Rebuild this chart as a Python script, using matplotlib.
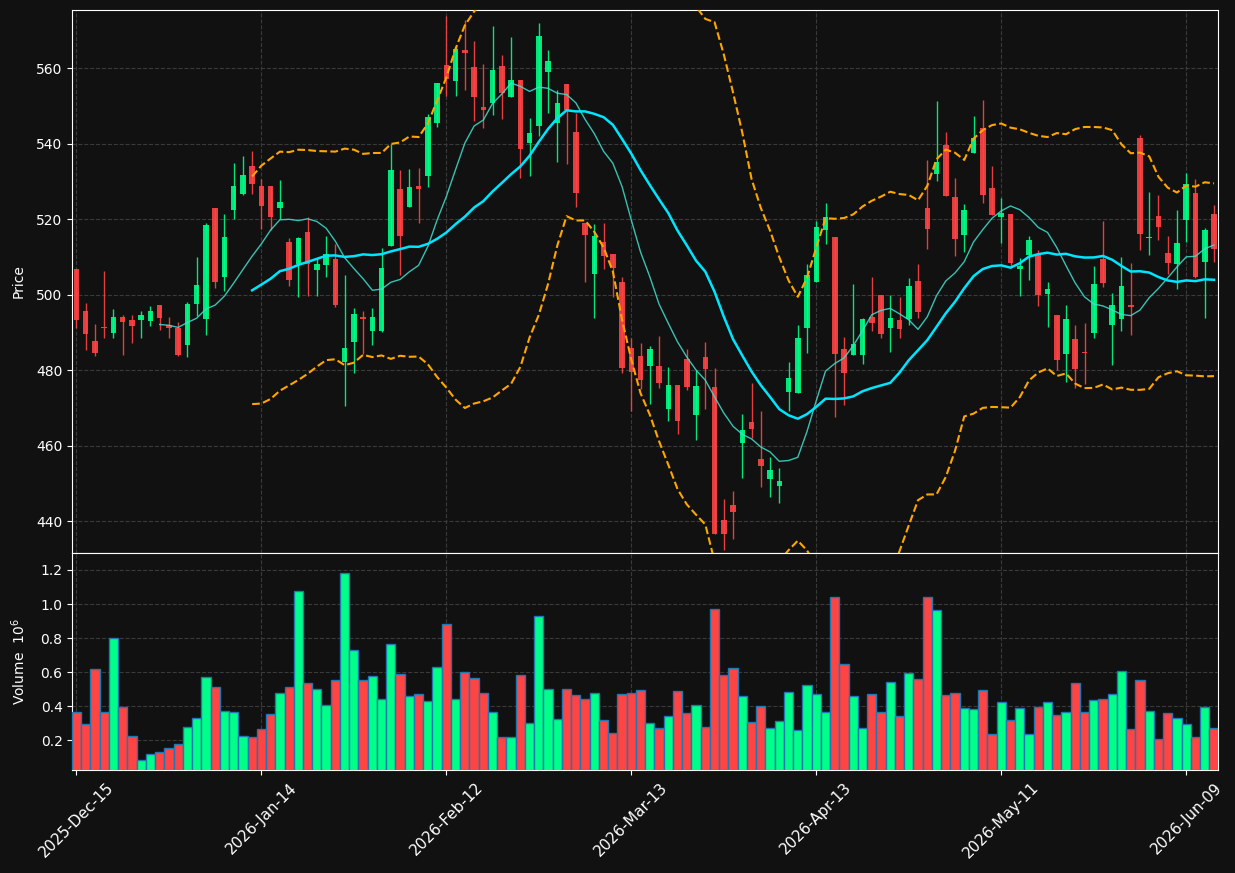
import numpy as np
import pandas as pd
import matplotlib
matplotlib.use("Agg")
import matplotlib.pyplot as plt

BG = '#111111'
UP = '#00ff88'
DOWN = '#ff4444'

# US market holidays inside the window
HOLIDAYS = ['2025-12-25', '2026-01-01', '2026-01-19', '2026-02-16',
            '2026-04-03', '2026-05-25']

opens = [506.7, 495.8, 487.6, 491.4, 489.8, 494.0, 493.2, 493.3, 493.0, 497.2,
         492.1, 491.1, 486.7, 497.5, 493.6, 522.9, 504.7, 522.5, 526.7, 534.1,
         528.8, 528.8, 523.0, 513.9, 508.1, 516.6, 506.5, 507.9, 509.4, 482.3,
         487.4, 494.1, 490.5, 490.5, 512.9, 528.0, 523.3, 528.8, 531.5, 545.4,
         560.8, 556.7, 564.8, 560.4, 549.8, 550.9, 560.7, 552.3, 556.9, 540.3,
         544.8, 558.9, 545.4, 555.9, 543.1, 519.0, 505.4, 513.9, 510.7, 503.3,
         486.0, 483.7, 481.1, 481.1, 469.7, 476.2, 483.0, 468.1, 483.6, 475.5,
         440.3, 444.3, 460.6, 466.4, 456.5, 451.1, 449.2, 474.2, 473.9, 491.1,
         503.4, 517.2, 515.3, 485.7, 483.9, 483.9, 494.0, 499.8, 491.1, 493.2,
         493.5, 503.5, 522.9, 532.1, 539.7, 525.9, 515.8, 537.5, 544.2, 528.2,
         520.7, 521.3, 506.8, 510.5, 510.5, 500.2, 494.5, 484.2, 488.2, 484.9,
         489.8, 509.4, 492.0, 493.6, 497.2, 541.6, 515.1, 520.8, 511.0, 508.1,
         519.8, 526.9, 508.7, 521.3]

highs = [506.7, 497.7, 492.3, 506.2, 496.3, 494.7, 494.7, 495.8, 496.9, 497.2,
         494.2, 492.7, 498.1, 510.0, 518.9, 522.9, 521.5, 535.0, 536.8, 538.1,
         530.7, 528.8, 530.3, 514.9, 515.3, 520.7, 509.8, 515.6, 513.5, 505.3,
         496.5, 495.8, 496.5, 512.3, 539.8, 533.1, 533.3, 533.5, 547.8, 556.2,
         573.9, 565.8, 572.8, 567.1, 561.0, 571.2, 563.4, 568.3, 556.9, 546.8,
         572.0, 564.8, 554.3, 555.9, 548.0, 519.0, 518.6, 518.9, 510.7, 504.8,
         488.5, 487.2, 486.5, 489.1, 480.9, 476.2, 485.6, 480.0, 487.4, 480.6,
         446.0, 448.1, 468.3, 476.5, 469.1, 457.1, 454.1, 482.1, 492.1, 508.2,
         519.4, 524.4, 515.3, 488.8, 502.7, 493.8, 504.8, 499.8, 500.0, 499.3,
         504.4, 508.1, 535.6, 551.2, 543.1, 530.8, 524.0, 547.3, 551.6, 534.0,
         525.7, 521.3, 509.8, 515.6, 511.9, 503.4, 494.5, 497.2, 492.1, 492.4,
         507.7, 519.4, 500.5, 510.1, 508.4, 542.2, 527.1, 526.5, 515.6, 522.5,
         532.3, 530.6, 517.6, 523.7]

lows = [491.1, 485.3, 483.7, 488.6, 488.4, 484.0, 487.1, 488.6, 491.7, 490.7,
        488.4, 483.7, 483.5, 494.4, 489.3, 501.9, 501.1, 520.0, 526.4, 526.6,
        517.5, 517.2, 520.0, 502.3, 499.3, 499.7, 499.7, 504.8, 496.7, 470.6,
        479.3, 484.2, 486.7, 490.0, 512.9, 505.3, 523.3, 518.9, 528.4, 544.3,
        552.6, 552.6, 554.2, 545.9, 544.1, 547.5, 546.5, 552.3, 531.0, 531.5,
        542.0, 548.0, 535.1, 534.5, 523.3, 503.4, 493.9, 506.7, 499.3, 479.3,
        469.3, 474.9, 471.1, 475.3, 466.5, 463.2, 474.8, 461.5, 469.7, 436.6,
        432.4, 435.4, 451.4, 462.1, 449.0, 446.4, 444.8, 469.1, 473.9, 484.6,
        503.4, 513.5, 467.7, 470.8, 483.9, 481.6, 490.4, 488.4, 484.9, 488.6,
        492.1, 493.8, 512.0, 530.0, 526.1, 510.2, 511.2, 537.5, 524.4, 521.1,
        513.8, 507.0, 499.7, 504.0, 497.0, 491.5, 480.0, 476.9, 475.3, 476.4,
        488.4, 502.1, 481.4, 490.4, 489.3, 511.9, 510.5, 514.6, 505.6, 501.6,
        514.0, 504.4, 493.7, 508.7]

closes = [493.3, 489.6, 484.5, 491.2, 494.2, 492.7, 491.7, 494.5, 495.6, 493.8,
          491.1, 484.0, 497.5, 502.5, 518.4, 503.4, 515.3, 528.8, 531.7, 529.4,
          523.6, 520.7, 524.5, 503.9, 515.0, 508.1, 508.2, 510.9, 497.2, 486.0,
          494.8, 493.6, 494.0, 507.0, 533.1, 515.6, 528.5, 527.9, 547.1, 556.2,
          557.1, 565.1, 563.9, 552.3, 549.0, 559.6, 553.3, 556.9, 538.5, 542.8,
          568.4, 562.0, 550.8, 548.9, 527.0, 515.7, 515.5, 510.2, 507.0, 480.7,
          479.5, 477.4, 485.5, 476.5, 476.0, 466.5, 475.5, 475.7, 480.2, 436.6,
          436.5, 442.4, 464.1, 464.5, 454.5, 453.5, 450.6, 477.9, 488.6, 505.3,
          518.0, 520.6, 484.2, 479.2, 487.0, 493.5, 492.5, 489.6, 493.8, 490.9,
          502.2, 495.3, 517.4, 535.1, 526.1, 514.7, 522.5, 541.6, 526.5, 521.1,
          521.6, 508.4, 507.5, 514.4, 499.9, 501.4, 482.6, 493.5, 480.3, 484.6,
          502.8, 503.1, 497.2, 502.2, 496.8, 516.2, 515.4, 518.0, 508.3, 513.6,
          529.3, 504.7, 517.1, 512.1]

# volume in millions
volumes = [0.365, 0.298, 0.616, 0.365, 0.798, 0.398, 0.227, 0.086, 0.122, 0.133,
           0.153, 0.176, 0.280, 0.329, 0.569, 0.516, 0.375, 0.369, 0.227, 0.222,
           0.265, 0.353, 0.476, 0.516, 1.075, 0.535, 0.504, 0.410, 0.557, 1.180,
           0.733, 0.553, 0.580, 0.441, 0.765, 0.588, 0.459, 0.471, 0.429, 0.629,
           0.882, 0.441, 0.600, 0.565, 0.476, 0.365, 0.218, 0.218, 0.582, 0.300,
           0.929, 0.500, 0.324, 0.500, 0.465, 0.441, 0.476, 0.318, 0.241, 0.471,
           0.476, 0.494, 0.300, 0.273, 0.341, 0.488, 0.359, 0.406, 0.276, 0.971,
           0.582, 0.624, 0.459, 0.306, 0.400, 0.273, 0.312, 0.482, 0.259, 0.524,
           0.471, 0.365, 1.041, 0.647, 0.459, 0.273, 0.471, 0.365, 0.541, 0.341,
           0.594, 0.559, 1.041, 0.965, 0.465, 0.476, 0.388, 0.382, 0.494, 0.239,
           0.424, 0.318, 0.388, 0.235, 0.394, 0.424, 0.347, 0.365, 0.535, 0.365,
           0.435, 0.441, 0.471, 0.606, 0.265, 0.553, 0.371, 0.206, 0.359, 0.329,
           0.294, 0.218, 0.394, 0.271]

n = len(closes)
dates = pd.bdate_range('2025-12-15', periods=n, freq='C', holidays=HOLIDAYS)
x = np.arange(n)
o = np.array(opens)
h = np.array(highs)
l = np.array(lows)
c = np.array(closes)
up = c >= o
colors = [UP if u else DOWN for u in up]

cs = pd.Series(closes)
ma10 = cs.rolling(10).mean()
ma20 = cs.rolling(20).mean()
sd20 = cs.rolling(20).std()
upper = ma20 + 2 * sd20
lower = ma20 - 2 * sd20

fig = plt.figure(figsize=(12.35, 8.73), dpi=100, facecolor=BG)
ax = fig.add_axes([0.0585, 0.3671, 0.928, 0.6214], facecolor=BG)
axv = fig.add_axes([0.0585, 0.1176, 0.928, 0.2490], facecolor=BG, sharex=ax)

#Candles
ax.vlines(x, l, h, colors=colors, linewidth=1.0, alpha=0.9, zorder=2)
body = np.abs(c - o)
body = np.where(body < 0.15, 0.15, body)
ax.bar(x, body, bottom=np.minimum(o, c), width=0.6, color=colors,
       alpha=0.9, linewidth=0, zorder=3)

#Indicators
ax.plot(x, ma10, color='#40e0d0', linewidth=1.0, alpha=0.85, zorder=4)
ax.plot(x, ma20, color='#00e5ff', linewidth=1.8, zorder=4)
ax.plot(x, upper, color='orange', linewidth=1.5, linestyle='--', zorder=4)
ax.plot(x, lower, color='orange', linewidth=1.5, linestyle='--', zorder=4)

ax.set_ylim(431.7, 575.4)
ax.set_xlim(-0.45, n - 0.53)
ax.set_yticks([440, 460, 480, 500, 520, 540, 560])
ax.set_ylabel('Price', color='white', fontsize=10)
ax.tick_params(axis='x', length=0, labelbottom=False)

#Volume
axv.bar(x, volumes, width=1.0, color=colors, edgecolor='#1f77b4',
        linewidth=1.0, zorder=3)
axv.set_ylim(0.024, 1.30)
axv.set_yticks([0.2, 0.4, 0.6, 0.8, 1.0, 1.2])
axv.set_ylabel('Volume  $10^6$', color='white', fontsize=10)

tick_pos = list(range(0, n, 20))
axv.set_xticks(tick_pos)
axv.set_xticklabels([dates[i].strftime('%Y-%b-%d') for i in tick_pos],
                    rotation=45, ha='center')

for a in (ax, axv):
    a.grid(True, linestyle='--', color='#3a3a3a', linewidth=0.8, zorder=0)
    a.set_axisbelow(True)
    a.tick_params(colors='white', labelsize=10)
    for sp in a.spines.values():
        sp.set_color('white')
axv.tick_params(axis='x', labelsize=11)
ax.yaxis.set_label_coords(-0.041, 0.5)
axv.yaxis.set_label_coords(-0.039, 0.5)

fig.savefig('out.png', dpi=100, facecolor=BG)
